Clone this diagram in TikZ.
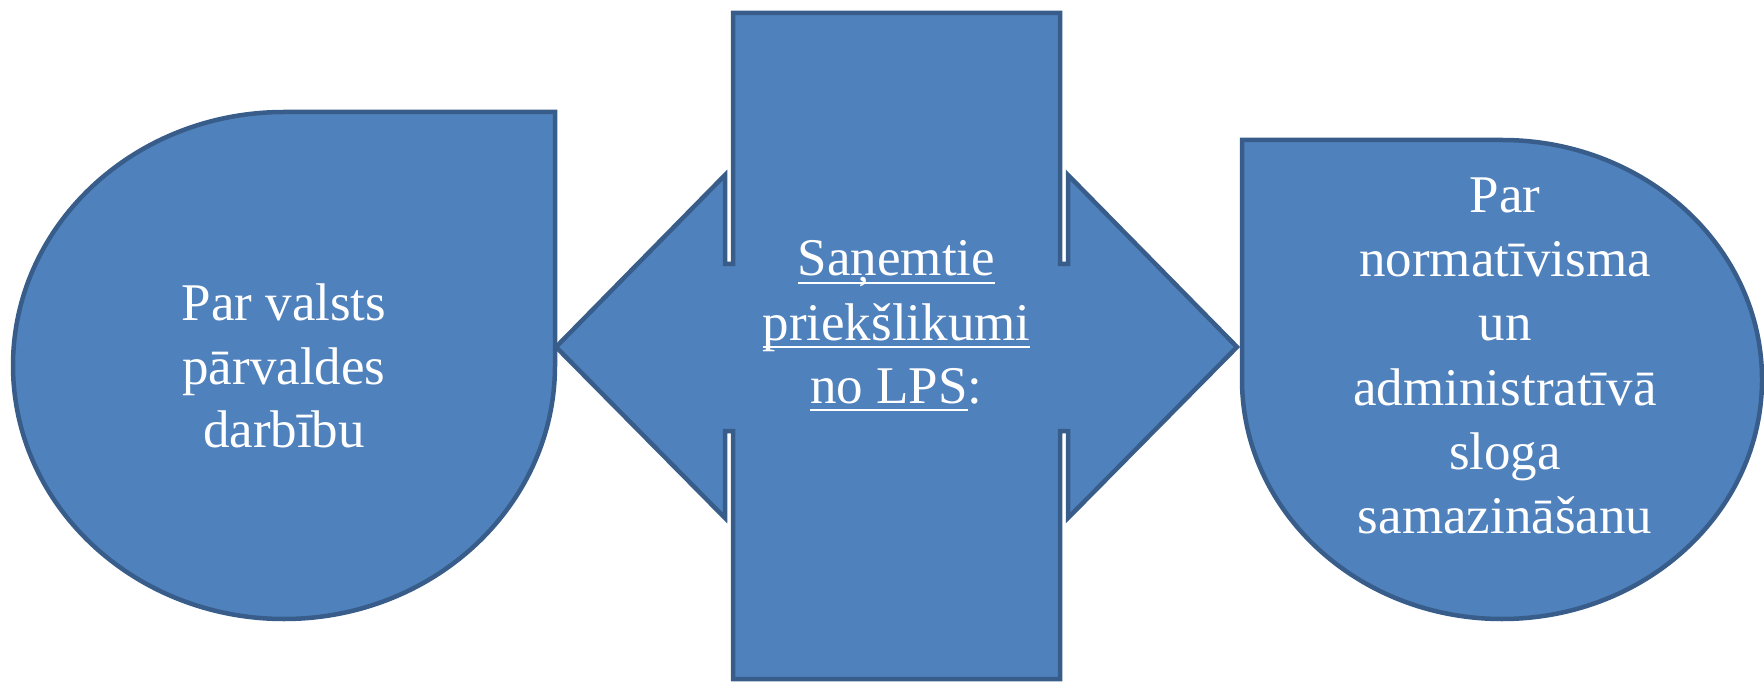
\documentclass[tikz,border=0pt]{standalone}
\usepackage{fontspec}
\setmainfont{Liberation Serif}
\newsavebox{\ulbox}
\newcommand{\myul}[1]{\sbox{\ulbox}{#1}\rlap{\rule[-8pt]{\wd\ulbox}{2.2pt}}\usebox{\ulbox}}
\definecolor{shapefill}{HTML}{4F81BD}
\definecolor{shapeline}{HTML}{385D8A}
\begin{document}
\begin{tikzpicture}[x=1pt,y=1pt,
  shapestyle/.style={fill=shapefill, draw=shapeline, line width=4.5pt, line join=miter},
  txt/.style={text=white, font=\fontsize{53}{63}\selectfont, anchor=base, inner sep=0pt}]
\useasboundingbox (0,0) rectangle (1764,681);
% left teardrop
\draw[shapestyle] (284,569) -- (555,569) -- (555,315.5)
  arc[start angle=0, end angle=-270, x radius=271, y radius=253.5] -- cycle;
% right teardrop
\draw[shapestyle] (1242,541) -- (1502,541)
  arc[start angle=90, end angle=-180, x radius=260, y radius=239.5] -- cycle;
% centre left-right arrow callout
\draw[shapestyle] (733,668) -- (1060,668) -- (1060,417) -- (1068,417) -- (1068,506)
  -- (1237,334) -- (1068,163) -- (1068,250) -- (1060,250) -- (1060,2) -- (733,2)
  -- (733,250) -- (725,250) -- (725,163) -- (556,334) -- (725,506) -- (725,417)
  -- (733,417) -- cycle;
% left text
\node[txt] (l1) at (284,360) {Par valsts};
\node[txt] (l2) at (284,297) {pārvaldes};
\node[txt] (l3) at (284,234) {darbību};
% centre text
\node[txt] (c1) at (896.5,405) {\myul{Saņemtie}};
\node[txt] (c2) at (896.5,341) {\myul{priekšlikumi}};
\node[txt] (c3) at (896.5,278) {\myul{no LPS}:};
% right text
\node[txt] (r1) at (1505,468) {Par};
\node[txt] (r2) at (1505,404) {normatīvisma};
\node[txt] (r3) at (1505,340) {un};
\node[txt] (r4) at (1505,276) {administratīvā};
\node[txt] (r5) at (1505,212) {sloga};
\node[txt] (r6) at (1505,148) {samazināšanu};
\end{tikzpicture}
\end{document}
